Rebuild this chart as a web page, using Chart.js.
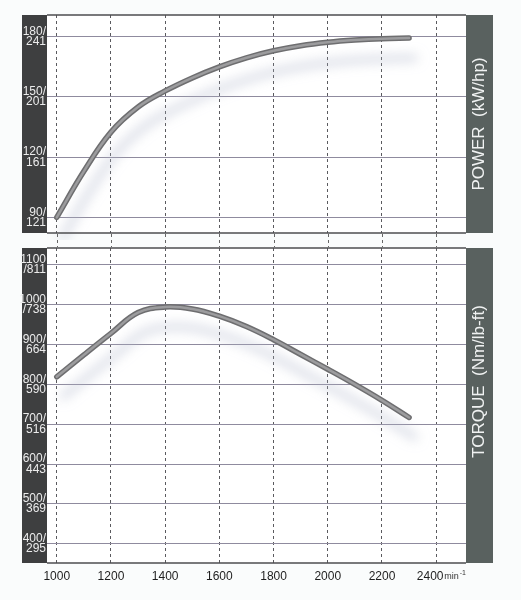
<!DOCTYPE html>
<html><head><meta charset="utf-8">
<script src="https://cdn.jsdelivr.net/npm/chart.js@4"></script>
<style>
html,body{margin:0;padding:0;background:#fafcfc;}
#wrap{position:relative;width:521px;height:600px;}
canvas{position:absolute;left:0;}
#c1{top:0}
#c2{top:240px}
</style></head><body>
<div id="wrap"><canvas id="c1" width="521" height="240"></canvas><canvas id="c2" width="521" height="360"></canvas></div>
<script>
// ---- data ----
const rpmTicks = [1000,1200,1400,1600,1800,2000,2200,2400];
const powerTicksKw = [90,120,150,180];
const powerTicksHp = [121,161,201,241];
const torqueTicksNm = [400,500,600,700,800,900,1000,1100];
const torqueTicksLbft = [295,369,443,516,590,664,738,811];

const powerRpm = [1000,1100,1200,1300,1400,1500,1600,1700,1800,1900,2000,2100,2200,2300];
const powerKw  = [90.1,113,132.5,145,153,159.5,165,169.5,173,175.5,177.2,178.3,179,179.3];

const torqueRpm = [1000,1100,1200,1300,1400,1500,1600,1700,1800,1900,2000,2100,2200,2300];
const torqueNm  = [819,874,928,980,994,989,971,945,912,875,838,800,760,717];

const powerTitle = 'POWER  (kW/hp)';
const torqueTitle = 'TORQUE  (Nm/lb-ft)';
const rpmUnit = 'min';
const rpmUnitExp = '-1';

// ---- styling helpers ----
const NARROW = "'Liberation Sans Narrow','Arial Narrow','Liberation Sans',Arial,sans-serif";
const SANS = "'Liberation Sans',Arial,sans-serif";

const frame = {
  id:'frame',
  beforeDraw(chart, args, opts){
    const {ctx, chartArea:a} = chart;
    ctx.save();
    ctx.fillStyle='#ffffff'; ctx.fillRect(a.left,a.top,a.right-a.left,a.bottom-a.top);
    ctx.fillStyle='#3e3f40'; ctx.fillRect(a.left-25, a.top, 25, a.bottom-a.top);
    ctx.fillStyle='#59615f'; ctx.fillRect(a.right, a.top, 27, a.bottom-a.top);
    ctx.restore();
  },
  afterDraw(chart, args, opts){
    const {ctx, chartArea:a} = chart;
    const xs = chart.scales.x;
    ctx.save();
    ctx.strokeStyle='#4d4d50'; ctx.lineWidth=1.5;
    ctx.beginPath();
    ctx.moveTo(a.left,a.top); ctx.lineTo(a.right,a.top);
    ctx.moveTo(a.left,a.bottom); ctx.lineTo(a.right,a.bottom);
    ctx.stroke();
    // dashed continuation in the gap between panels
    ctx.strokeStyle='#666'; ctx.lineWidth=1; ctx.setLineDash([3,3]);
    const y0 = opts.gap==='below' ? a.bottom+1 : 0;
    const y1 = opts.gap==='below' ? chart.height : a.top-1;
    ctx.beginPath();
    rpmTicks.forEach(v=>{ const px=Math.round(xs.getPixelForValue(v))+0.5; ctx.moveTo(px,y0); ctx.lineTo(px,y1); });
    ctx.stroke();
    ctx.setLineDash([]);
    if (opts.unit){
      const px = xs.getPixelForValue(2400)+8;
      const py = a.bottom+16;
      ctx.fillStyle='#333'; ctx.font='9px '+SANS; ctx.textAlign='left'; ctx.textBaseline='alphabetic';
      ctx.fillText(rpmUnit, px, py);
      const w = ctx.measureText(rpmUnit).width;
      ctx.font='7px '+SANS;
      ctx.fillText(rpmUnitExp, px+w+1, py-4);
    }
    ctx.translate(a.right+13.5, (a.top+a.bottom)/2 + opts.dy);
    ctx.rotate(-Math.PI/2);
    ctx.fillStyle='#f0f2f2'; ctx.font='17px '+SANS;
    ctx.textAlign='center'; ctx.textBaseline='middle';
    ctx.fillText(opts.title,0,0);
    ctx.restore();
  }
};

const shadow = {
  id:'shadow',
  beforeDatasetDraw(chart, args){
    if(args.index!==0) return;
    const c=chart.ctx; c.save();
    c.shadowColor='rgba(178,184,205,0.65)'; c.shadowBlur=12; c.shadowOffsetX=6; c.shadowOffsetY=20;
  },
  afterDatasetDraw(chart,args){ if(args.index!==0) return; chart.ctx.restore(); }
};

function curveSets(xs, ys){
  const pts = xs.map((x,i)=>({x, y:ys[i]}));
  return [
    {data:pts, borderColor:'#6e6e70', borderWidth:5.5, pointRadius:0, tension:0.4, borderCapStyle:'round', borderJoinStyle:'round', clip:false, order:2},
    {data:pts, borderColor:'#9c9c9e', borderWidth:2.5, pointRadius:0, tension:0.4, borderCapStyle:'round', borderJoinStyle:'round', clip:false, order:1}
  ];
}

function xScale(showLabels, h){
  return {
    type:'linear', min:964, max:2510,
    afterBuildTicks: s=>{ s.ticks = rpmTicks.map(v=>({value:v})); },
    afterFit: s=>{ s.height = h; s.paddingLeft = 0; s.paddingRight = 0; },
    ticks:{ display:showLabels, padding:6, color:'#1e1e1e', font:{family:NARROW, size:12}, autoSkip:false, maxRotation:0,
      callback:(v)=> v===2400 ? '2400\u2003' : String(v) },
    grid:{ color:'#5a5a5e', lineWidth:1, drawTicks:false },
    border:{ display:false, dash:[3,3] }
  };
}

function yScale(min, max, vals, alt, big){
  return {
    min, max,
    afterBuildTicks: s=>{ s.ticks = vals.map(v=>({value:v})); },
    afterFit: s=>{ s.width = 47; s.paddingTop = 0; s.paddingBottom = 0; },
    ticks:{ padding:1, color:'#ececec', autoSkip:false, font:{family:NARROW, size:12, lineHeight:0.85},
      callback:(v)=>{ const i = vals.indexOf(v); if(i<0) return ''; return v>=big ? [String(v), '/'+alt[i]] : [v+'/', String(alt[i])]; } },
    grid:{ color:'#8f8b9e', lineWidth:1, drawTicks:false },
    border:{ display:false }
  };
}

Chart.defaults.animation = false;

new Chart(document.getElementById('c1'), {
  type:'line',
  data:{ datasets: curveSets(powerRpm, powerKw) },
  options:{
    responsive:false, animation:false,
    layout:{ padding:{ top:15, right:55, left:0, bottom:0 } },
    plugins:{ legend:{display:false}, tooltip:{enabled:false}, frame:{ title:powerTitle, dy:0, gap:'below' } },
    scales:{ x: xScale(false, 7), y: yScale(82.3, 190.8, powerTicksKw, powerTicksHp, 1000) }
  },
  plugins:[frame, shadow]
});

new Chart(document.getElementById('c2'), {
  type:'line',
  data:{ datasets: curveSets(torqueRpm, torqueNm) },
  options:{
    responsive:false, animation:false,
    layout:{ padding:{ top:8, right:55, left:0, bottom:0 } },
    plugins:{ legend:{display:false}, tooltip:{enabled:false}, frame:{ title:torqueTitle, dy:-24, gap:'above', unit:true } },
    scales:{ x: xScale(true, 37), y: yScale(352, 1142, torqueTicksNm, torqueTicksLbft, 1000) }
  },
  plugins:[frame, shadow]
});
</script>
</body></html>
